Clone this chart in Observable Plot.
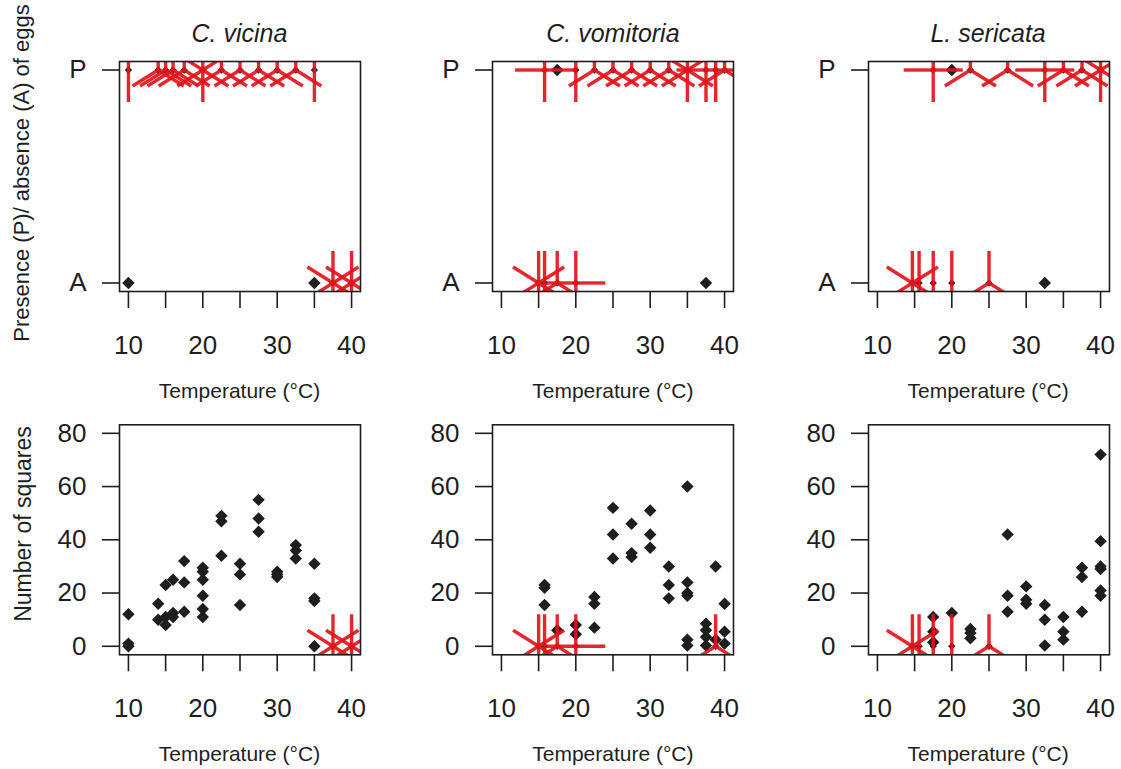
<!DOCTYPE html>
<html><head><meta charset="utf-8">
<script src="https://cdn.jsdelivr.net/npm/d3@7"></script>
<script src="https://cdn.jsdelivr.net/npm/@observablehq/plot@0.6"></script>
<style>
body{margin:0;background:#fff;}
#root{position:relative;width:1121px;height:769px;overflow:hidden;background:#fff;}
.panel{position:absolute;}
#labels{position:absolute;left:0;top:0;}
</style></head><body><div id="root"></div>
<script>
// ---------- data ----------
const speciesNames = ["C. vicina", "C. vomitoria", "L. sericata"];
const xTicks = [10, 15, 20, 25, 30, 35, 40];
const xTickLabels = ["10", "", "20", "", "30", "", "40"];
const paTicks = [0, 1];
const paTickLabels = ["A", "P"];
const squareTicks = [0, 20, 40, 60, 80];

// presence (P) / absence (A) of eggs: temperature and number of replicates
const vicinaPTemp = [10, 14, 15, 16, 17.5, 20, 22.5, 25, 27.5, 30, 32.5, 35];
const vicinaPCount = [2, 3, 3, 3, 3, 6, 3, 3, 3, 3, 3, 2];
const vicinaATemp = [10, 35, 37.5, 40];
const vicinaACount = [1, 1, 6, 6];

const vomitoriaPTemp = [15.8, 17.5, 20, 22.5, 25, 27.5, 30, 32.5, 35, 37.5, 38.8, 40];
const vomitoriaPCount = [4, 1, 2, 3, 3, 3, 3, 3, 6, 4, 2, 3];
const vomitoriaATemp = [15, 15.8, 17.5, 20, 37.5];
const vomitoriaACount = [6, 2, 3, 4, 1];

const sericataPTemp = [17.5, 20, 22.5, 27.5, 32.5, 35, 37.5, 40];
const sericataPCount = [4, 1, 3, 3, 4, 3, 3, 6];
const sericataATemp = [14.7, 15.6, 17.5, 20, 25, 32.5];
const sericataACount = [6, 2, 2, 2, 3, 1];

// number of squares: temperature and value of each replicate
const vicinaSqTemp = [10,10,10, 14,14, 15,15,15, 16,16,16, 17.5,17.5,17.5, 20,20,20,20,20,20, 22.5,22.5,22.5, 25,25,25, 27.5,27.5,27.5, 30,30,30, 32.5,32.5,32.5, 35,35,35,35, 37.5,37.5,37.5,37.5,37.5,37.5, 40,40,40,40,40,40];
const vicinaSq = [12,1,0, 16,10, 23,11,8, 25,12.5,11, 32,24,13, 29.5,28,25,19,14,11, 49,47,34, 31,27,15.5, 55,48,43, 28,27,26, 38,36,33, 31,18,17,0, 0,0,0,0,0,0, 0,0,0,0,0,0];

const vomitoriaSqTemp = [15,15,15,15,15,15, 15.8,15.8,15.8,15.8,15.8, 17.5,17.5,17.5,17.5, 20,20,20,20,20,20, 22.5,22.5,22.5, 25,25,25, 27.5,27.5,27.5, 30,30,30, 32.5,32.5,32.5, 35,35,35,35,35,35, 37.5,37.5,37.5,37.5, 38.8,38.8,38.8,38.8,38.8, 40,40,40];
const vomitoriaSq = [0,0,0,0,0,0, 23,22,15.5,0,0, 6,0,0,0, 8,4.5,0,0,0,0, 18.5,16,7, 52,42,33, 46,35,33.5, 51,42,37, 30,23,18, 60,24,20,19,2.5,0.3, 8.5,6,3.5,0.3, 30,2.5,0,0,0, 16,5.5,1];

const sericataSqTemp = [14.7,14.7,14.7,14.7,14.7,14.7, 15.6,15.6, 17.5,17.5,17.5,17.5,17.5, 20,20,20, 22.5,22.5,22.5, 25,25,25, 27.5,27.5,27.5, 30,30,30, 32.5,32.5,32.5, 35,35,35, 37.5,37.5,37.5, 40,40,40,40,40,40];
const sericataSq = [0,0,0,0,0,0, 0,0, 11,5.5,1.5,0,0, 12.5,0,0, 6.5,5,3, 0,0,0, 42,19,13, 22.5,17.5,16, 15.5,10,0.3, 11,5.5,2.5, 29.5,26,13, 72,39.5,30,29,21,19];

// ---------- layout ----------
const W = 374, ML = 119, MR = 14;
const colLeft = [0, 373.4, 748.6];
const xDomain = [8.8, 41.2];
const paDomain = [-0.04, 1.04];
const sqDomain = [-3.2, 83.2];
const INNER_H = 230;
const PETAL_X = 29.5, PETAL_Y = 32; // petal length in pixels (horizontal / vertical)
const RED = "#e3141b";
const INK = "#1e1e1e";

function groupsFromCounts(pt, pc, at, ac) {
  const g = [];
  pt.forEach((t, i) => g.push({x: t, y: 1, n: pc[i]}));
  at.forEach((t, i) => g.push({x: t, y: 0, n: ac[i]}));
  return g;
}
function groupsFromValues(temps, vals) {
  const m = new Map();
  temps.forEach((t, i) => {
    const k = t + "|" + vals[i];
    if (!m.has(k)) m.set(k, {x: t, y: vals[i], n: 0});
    m.get(k).n++;
  });
  return [...m.values()];
}
function petals(groups, lx, ly) {
  const out = [];
  for (const g of groups) if (g.n > 1) for (let k = 1; k <= g.n; k++) {
    const a = 2 * Math.PI * k / g.n;
    out.push({x1: g.x, y1: g.y, x2: g.x + lx * Math.sin(a), y2: g.y + ly * Math.cos(a)});
  }
  return out;
}

function panel(groups, yDomain, yTicks, yFmt, marginTop, height) {
  const innerW = W - ML - MR;
  const lx = PETAL_X * (xDomain[1] - xDomain[0]) / innerW;
  const ly = PETAL_Y * (yDomain[1] - yDomain[0]) / INNER_H;
  const singles = groups.filter(g => g.n === 1);
  const multis = groups.filter(g => g.n > 1);
  return Plot.plot({
    width: W, height, marginLeft: ML, marginRight: MR, marginTop, marginBottom: height - marginTop - INNER_H,
    style: {fontFamily: "'Liberation Sans', Arial, sans-serif", background: "white", overflow: "visible"},
    x: {domain: xDomain},
    y: {domain: yDomain},
    marks: [
      Plot.dot(singles, {x: "x", y: "y", symbol: "diamond2", r: 5.6, fill: INK, stroke: "none", clip: true}),
      Plot.dot(multis, {x: "x", y: "y", symbol: "diamond2", r: 3.3, fill: INK, stroke: "none", clip: true}),
      Plot.link(petals(groups, lx, ly), {x1: "x1", y1: "y1", x2: "x2", y2: "y2", stroke: RED, strokeWidth: 3.4, strokeOpacity: 0.92, clip: true}),
      Plot.axisX({ticks: xTicks, tickFormat: d => xTickLabels[xTicks.indexOf(d)], tickSize: 17, tickPadding: 27, fontSize: 26, color: INK, strokeWidth: 1.6, label: null}),
      Plot.axisY({ticks: yTicks, tickFormat: yFmt, tickSize: 17, tickPadding: 16, fontSize: 26, color: INK, strokeWidth: 1.6, label: null}),
      Plot.frame({stroke: INK, strokeWidth: 1.6})
    ]
  });
}

const root = document.getElementById("root");
const topGroups = [
  groupsFromCounts(vicinaPTemp, vicinaPCount, vicinaATemp, vicinaACount),
  groupsFromCounts(vomitoriaPTemp, vomitoriaPCount, vomitoriaATemp, vomitoriaACount),
  groupsFromCounts(sericataPTemp, sericataPCount, sericataATemp, sericataACount)
];
const bottomGroups = [
  groupsFromValues(vicinaSqTemp, vicinaSq),
  groupsFromValues(vomitoriaSqTemp, vomitoriaSq),
  groupsFromValues(sericataSqTemp, sericataSq)
];
for (let c = 0; c < 3; c++) {
  const top = panel(topGroups[c], paDomain, paTicks, d => paTickLabels[paTicks.indexOf(d)], 61, 384);
  top.classList.add("panel"); top.style.left = colLeft[c] + "px"; top.style.top = "0px";
  root.appendChild(top);
  const bot = panel(bottomGroups[c], sqDomain, squareTicks, d => String(d), 40.3, 385);
  bot.classList.add("panel"); bot.style.left = colLeft[c] + "px"; bot.style.top = "384px";
  root.appendChild(bot);
}

// titles and axis labels
const ns = "http://www.w3.org/2000/svg";
const lab = document.createElementNS(ns, "svg");
lab.setAttribute("id", "labels"); lab.setAttribute("width", 1121); lab.setAttribute("height", 769);
lab.style.fontFamily = "'Liberation Sans', Arial, sans-serif";
function addText(txt, x, y, size, opts = {}) {
  const t = document.createElementNS(ns, "text");
  t.textContent = txt;
  t.setAttribute("x", x); t.setAttribute("y", y);
  t.setAttribute("font-size", size);
  t.setAttribute("fill", INK);
  t.setAttribute("text-anchor", "middle");
  if (opts.italic) t.setAttribute("font-style", "italic");
  if (opts.rotate) t.setAttribute("transform", `rotate(-90 ${x} ${y})`);
  lab.appendChild(t);
}
for (let c = 0; c < 3; c++) {
  const cx = colLeft[c] + ML + (W - ML - MR) / 2;
  addText(speciesNames[c], cx, 41.5, 25, {italic: true});
  addText("Temperature (°C)", cx, 398, 21);
  addText("Temperature (°C)", cx, 761, 21);
}
addText("Presence (P)/ absence (A) of eggs", 29, 173, 22, {rotate: true});
addText("Number of squares", 31, 524, 23, {rotate: true});
root.appendChild(lab);
</script></body></html>
